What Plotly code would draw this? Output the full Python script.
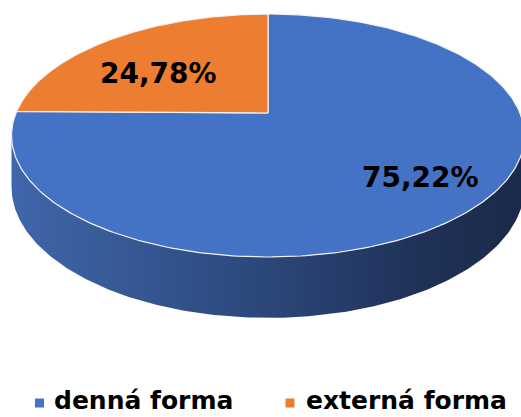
import numpy as np
import plotly.graph_objects as go

# ---- data ----
categories = ["denná forma", "externá forma"]
values = [75.22, 24.78]
value_labels = ["75,22%", "24,78%"]
colors = ["#4472C4", "#ED7D31"]

# ---- layout / geometry (pixels) ----
W, H = 521, 417
cx, cy = 268.0, 113.0          # projected pie centre
D = 5.4                        # camera distance (in radii)
K = 3421.0                     # vertical perspective factor
F = 1361.0                     # horizontal perspective factor
G = 268.0                      # thickness factor
label_pos = [(420, 177), (158, 73)]
legend_sq_x = [39.5, 290]
legend_txt_x = [53, 305]
legend_y = 400
side_scale = [[0, "#3F66AB"], [0.45, "#2D4A7E"], [0.8, "#1F3157"], [1, "#1B2A4A"]]


def proj(t, rho=1.0, depth=0.0):
    X = rho * np.sin(t)
    Z = rho * np.cos(t)
    x = cx + F * X / (D + Z)
    y = cy + K * (1.0 / (D + Z) - 1.0 / D) + depth * G / (D + Z)
    return x, y


fig = go.Figure()

total = sum(values)
fracs = [v / total for v in values]
starts = np.cumsum([0] + fracs[:-1]) * 2 * np.pi
ends = np.cumsum(fracs) * 2 * np.pi

# visible side arc
t_vis1 = np.arccos(-1.0 / D)
t_vis2 = 2 * np.pi - t_vis1

# side walls
for i in range(len(values)):
    a = max(starts[i], t_vis1)
    b = min(ends[i], t_vis2)
    if b <= a:
        continue
    t = np.linspace(a, b, 200)
    xt, yt = proj(t)
    xb, yb = proj(t[::-1], depth=1.0)
    xs = np.concatenate([xt, xb, xt[:1]])
    ys = np.concatenate([yt, yb, yt[:1]])
    fig.add_trace(go.Scatter(
        x=xs, y=ys, mode="lines", fill="toself",
        line=dict(width=0, color="rgba(0,0,0,0)"),
        fillgradient=dict(type="horizontal", colorscale=side_scale),
        hoverinfo="skip", showlegend=False))

# top faces
for i in range(len(values)):
    t = np.linspace(starts[i], ends[i], 300)
    xa, ya = proj(t)
    xs = np.concatenate([[cx], xa, [cx]])
    ys = np.concatenate([[cy], ya, [cy]])
    fig.add_trace(go.Scatter(
        x=xs, y=ys, mode="lines", fill="toself",
        fillcolor=colors[i],
        line=dict(width=1.2, color="#F2F2F2"),
        hoverinfo="skip", showlegend=False))

# value labels
for i, txt in enumerate(value_labels):
    fig.add_annotation(x=label_pos[i][0], y=label_pos[i][1], text=txt,
                       showarrow=False, xanchor="center", yanchor="middle",
                       font=dict(family="DejaVu Sans", size=28, color="black", weight="bold"))

# legend
fig.add_trace(go.Scatter(
    x=legend_sq_x, y=[legend_y + 3] * len(categories), mode="markers",
    marker=dict(symbol="square", size=9, color=colors, line=dict(width=0)),
    hoverinfo="skip", showlegend=False))
for i, cat in enumerate(categories):
    fig.add_annotation(x=legend_txt_x[i], y=legend_y, text=cat,
                       showarrow=False, xanchor="left", yanchor="middle", borderpad=0,
                       font=dict(family="DejaVu Sans", size=25, color="black", weight="bold"))

fig.update_layout(
    width=W, height=H,
    margin=dict(l=0, r=0, t=0, b=0),
    paper_bgcolor="white", plot_bgcolor="white",
    xaxis=dict(range=[0, W], visible=False, fixedrange=True),
    yaxis=dict(range=[H, 0], visible=False, fixedrange=True),
    showlegend=False,
)

fig.write_html("out.html", config={"displayModeBar": False},
               post_script="document.body.style.margin='0';")
